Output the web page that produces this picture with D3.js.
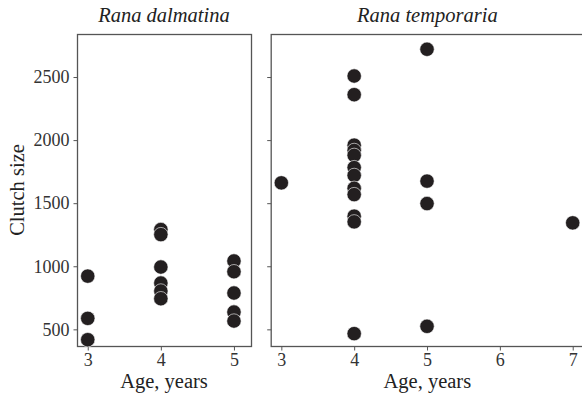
<!DOCTYPE html>
<html>
<head>
<meta charset="utf-8">
<script src="https://cdn.jsdelivr.net/npm/d3@7"></script>
<style>
  body { margin: 0; background: #fff; }
  svg { display: block; }
  text { font-family: "Liberation Serif", "Times New Roman", serif; }
</style>
</head>
<body>
<div id="chart"></div>
<script>
// data
const species = ["Rana dalmatina", "Rana temporaria"];
const dalmatinaAge = [3, 3, 3, 4, 4, 4, 4, 4, 4, 5, 5, 5, 5, 5];
const dalmatinaClutch = [922, 587, 418, 1291, 1251, 994, 867, 804, 743, 1042, 957, 788, 637, 566];
const temporariaAge = [3, 4, 4, 4, 4, 4, 4, 4, 4, 4, 4, 4, 4, 5, 5, 5, 5, 7];
const temporariaClutch = [1661, 2508, 2360, 1960, 1918, 1879, 1782, 1720, 1618, 1568, 1397, 1352, 466, 2720, 1675, 1497, 524, 1344];
const yTicks = [500, 1000, 1500, 2000, 2500];
const xTicksLeft = [3, 4, 5];
const xTicksRight = [3, 4, 5, 6, 7];

const W = 582, H = 396;
const plotTop = 34, plotBottom = 346;

const svg = d3.select("#chart").append("svg")
    .attr("width", W)
    .attr("height", H);

const y = d3.scaleLinear()
    .domain([368, 2841])
    .range([plotBottom, plotTop]);

const panels = [
  {name: species[0], ages: dalmatinaAge, clutch: dalmatinaClutch,
   x: d3.scaleLinear().domain([2.853, 5.233]).range([77, 251]), ticks: xTicksLeft, labels: true},
  {name: species[1], ages: temporariaAge, clutch: temporariaClutch,
   x: d3.scaleLinear().domain([2.854, 7.155]).range([270.7, 584]), ticks: xTicksRight, labels: false}
];

panels.forEach(p => {
  const [x0, x1] = p.x.range();
  const g = svg.append("g");

  // panel box
  g.append("rect")
      .attr("x", x0 + 0.5).attr("y", plotTop + 0.5)
      .attr("width", x1 - x0).attr("height", plotBottom - plotTop)
      .attr("fill", "none")
      .attr("stroke", "#555")
      .attr("stroke-width", 1.3);

  // y axis
  const ya = g.append("g")
      .attr("transform", `translate(${x0 + 0.5},0)`)
      .call(d3.axisLeft(y).tickValues(yTicks).tickSize(4).tickPadding(4)
        .tickFormat(p.labels ? d3.format("d") : ""));
  ya.attr("font-family", null);
  ya.select(".domain").remove();
  ya.selectAll("line").attr("stroke", "#555");
  ya.selectAll("text").attr("fill", "#333").style("font-size", "18px");

  // x axis
  const xa = g.append("g")
      .attr("transform", `translate(0,${plotBottom + 0.5})`)
      .call(d3.axisBottom(p.x).tickValues(p.ticks).tickSize(4).tickPadding(3).tickFormat(d3.format("d")));
  xa.attr("font-family", null);
  xa.select(".domain").remove();
  xa.selectAll("line").attr("stroke", "#555");
  xa.selectAll("text").attr("fill", "#333").style("font-size", "18px");

  // titles
  g.append("text")
      .attr("x", (x0 + Math.min(x1, W + 2)) / 2)
      .attr("y", 22)
      .attr("text-anchor", "middle")
      .style("font-style", "italic")
      .style("font-size", "20.5px")
      .attr("fill", "#222")
      .text(p.name);

  g.append("text")
      .attr("x", (x0 + Math.min(x1, W + 2)) / 2)
      .attr("y", 388)
      .attr("text-anchor", "middle")
      .style("font-size", "20.5px")
      .attr("fill", "#222")
      .text("Age, years");

  // points
  g.selectAll("circle")
      .data(p.ages.map((a, i) => ({age: a, clutch: p.clutch[i]})))
      .join("circle")
      .attr("cx", d => p.x(d.age))
      .attr("cy", d => y(d.clutch))
      .attr("r", 7.2)
      .attr("fill", "#231f20")
      .attr("stroke", "#fff")
      .attr("stroke-width", 0.6);
});

svg.append("text")
    .attr("transform", `translate(24,${(plotTop + plotBottom) / 2}) rotate(-90)`)
    .attr("text-anchor", "middle")
    .style("font-size", "20.5px")
    .attr("fill", "#222")
    .text("Clutch size");
</script>
</body>
</html>
